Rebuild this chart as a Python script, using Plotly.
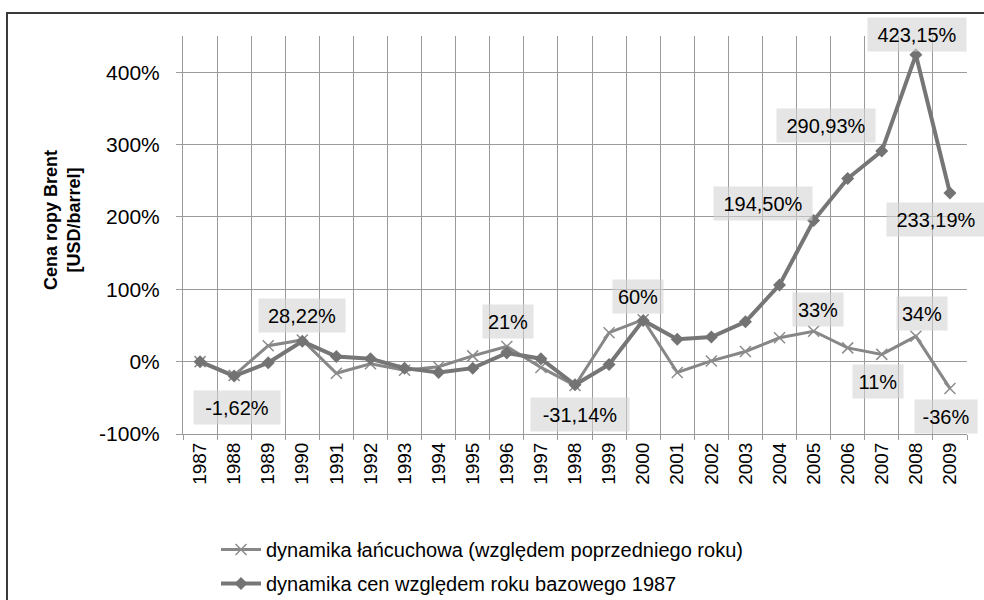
import plotly.graph_objects as go

years = [str(y) for y in range(1987, 2010)]
chain = [0, -19, 22, 30, -16, -3, -12, -7, 8, 21, -8, -33, 40, 58, -15, 1, 14, 33, 42, 19, 10, 35, -37]
base = [0, -20, -1.6, 28, 7, 4, -9, -15, -9, 12, 4, -32, -4, 57, 31, 34, 55, 106, 195, 253, 291, 424, 233]

name_chain = "dynamika łańcuchowa (względem poprzedniego roku)"
name_base = "dynamika cen względem roku bazowego 1987"
y_title = "Cena ropy Brent<br>[USD/barrel]"

# data labels: (year, series, text, dx, dy)
labels = [
    ("1990", "base", "28,22%", 0, -26),
    ("1988", "base", "-1,62%", 3, 31),
    ("1996", "chain", "21%", 1, -25),
    ("1998", "base", "-31,14%", 5, 30),
    ("2000", "chain", "60%", -5, -23),
    ("2005", "base", "194,50%", -51, -17),
    ("2007", "base", "290,93%", -56, -26),
    ("2008", "base", "423,15%", 1, -20),
    ("2009", "base", "233,19%", -14, 26),
    ("2005", "chain", "33%", 4, -22),
    ("2008", "chain", "34%", 6, -23),
    ("2007", "chain", "11%", -4, 27),
    ("2009", "chain", "-36%", -4, 28),
]

FONT = "Liberation Sans, Arial, sans-serif"
fig = go.Figure()
fig.add_trace(go.Scatter(
    x=years, y=chain, name=name_chain, mode="lines+markers", legendgroup="a",
    line=dict(color="#878787", width=3),
    marker=dict(symbol="x-thin", size=11, line=dict(color="#8c8c8c", width=1.5), color="#8c8c8c"),
))
fig.add_trace(go.Scatter(
    x=years, y=base, name=name_base, mode="lines+markers", legendgroup="b",
    line=dict(color="#767676", width=4),
    marker=dict(symbol="diamond", size=10, color="#737373"),
))

series = {"chain": chain, "base": base}
for yr, s, txt, dx, dy in labels:
    i = years.index(yr)
    v = series[s][i]
    fig.add_annotation(
        x=i, y=v, xref="x", yref="y", text=txt, showarrow=False,
        xanchor="center", yanchor="middle",
        xshift=dx, yshift=-dy, font=dict(family=FONT, size=20, color="#000"),
        bgcolor="rgba(212,212,212,0.6)", width=len(txt) * 12 + 12, height=31,
    )

fig.add_annotation(
    x=(62 - 183) / 784, y=(434 - 220) / 398, xref="paper", yref="paper",
    xanchor="center", yanchor="middle",
    text="<b>" + y_title + "</b>",
    showarrow=False, textangle=-90, font=dict(family=FONT, size=18, color="#000"),
)

# outer border
fig.add_shape(type="rect", xref="paper", yref="paper",
              x0=(7 - 183) / 784, x1=(995 - 183) / 784,
              y0=(434 - 610) / 398, y1=(434 - 13) / 398,
              line=dict(color="#3a3a3a", width=2), fillcolor="rgba(0,0,0,0)", layer="below")

fig.update_layout(
    width=984, height=600,
    margin=dict(l=183, r=17, t=36, b=166, autoexpand=False),
    paper_bgcolor="white", plot_bgcolor="white",
    font=dict(family=FONT, size=19, color="#000"),
    showlegend=True,
    legend=dict(x=(216 - 183) / 784, y=(434 - 530) / 398, xanchor="left", yanchor="top",
                orientation="v", font=dict(family=FONT, size=20), itemwidth=40,
                tracegroupgap=5, bgcolor="rgba(0,0,0,0)"),
    xaxis=dict(type="category", tickson="boundaries", showgrid=True, gridcolor="#9a9a9a",
               gridwidth=1, showline=True, linecolor="#9a9a9a", ticks="outside", ticklen=5,
               tickcolor="#9a9a9a", tickangle=-90, range=[-0.5, 22.5],
               tickfont=dict(family=FONT, size=19)),
    yaxis=dict(range=[-100, 450], tickvals=[-100, 0, 100, 200, 300, 400],
               ticktext=["-100%", "0%", "100%", "200%", "300%", "400%"],
               showgrid=True, gridcolor="#9a9a9a", gridwidth=1, showline=True,
               linecolor="#9a9a9a", ticks="outside", ticklen=6, tickcolor="#9a9a9a",
               zeroline=False, ticklabelstandoff=12, tickfont=dict(family=FONT, size=21)),
)

fig.write_html("out.html", config={"displayModeBar": False},
               post_script="document.body.style.margin='0';document.body.style.overflow='hidden';")
